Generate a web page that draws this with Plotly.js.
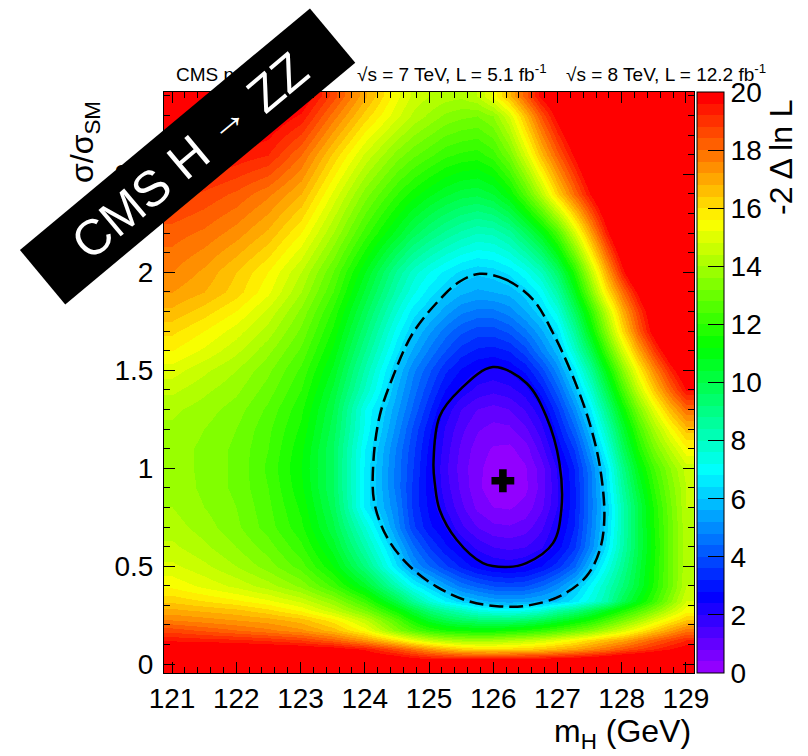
<!DOCTYPE html>
<html>
<head>
<meta charset="utf-8">
<script src="https://cdn.plot.ly/plotly-3.0.1.min.js"></script>
<style>html,body{margin:0;padding:0;background:#fff}#chart{width:808px;height:756px}</style>
</head>
<body>
<div id="chart"></div>
<script>
// ---------- data ----------
const massGeV = [121, 121.5, 122, 122.5, 123, 123.5, 124, 124.5, 124.75, 125, 125.25, 125.5, 125.75, 126, 126.25, 126.5, 126.75, 127, 127.25, 127.5, 127.75, 128, 128.25, 128.5, 128.75, 129];
const sigmaRatio = [-0.025, 0.025, 0.075, 0.125, 0.175, 0.225, 0.275, 0.325, 0.4, 0.5, 0.6, 0.7, 0.8, 0.9, 1.0, 1.1, 1.2, 1.3, 1.4, 1.5, 1.6, 1.7, 1.8, 1.9, 2.0, 2.2, 2.4, 2.6, 2.8, 2.9];
const minus2DeltaLnL = [
 [22,22,22,22,22,22,22,22,22,22,22,22,22,22,22,22,22,22,22,22,22,22,22,22,22,22],
 [22,22,21.8,21.6,21.4,21,20.6,20.2,19.9,19.7,19.6,19.6,19.6,19.7,19.7,19.8,19.8,20,20.1,20.3,20.5,20.8,21,21.3,21.6,22],
 [20.5,20.5,20.4,20.3,20.2,20.0,19.5,18.5,17.9,17.3,16.8,16.4,16.2,16.1,16.2,16.3,16.5,16.8,17.1,17.5,17.9,18.4,18.8,19.2,19.6,20.0],
 [19.5,19.4,19.3,19.1,18.8,18.2,17.3,16.0,15.2,14.6,14.2,14.0,13.9,14.0,14.2,14.4,14.7,15.1,15.6,16.1,16.6,17.0,17.6,18.2,18.7,19.2],
 [18.6,18.3,18.0,17.7,17.3,16.6,15.4,13.4,12.6,12.0,11.6,11.4,11.3,11.3,11.5,11.7,12.0,12.4,12.9,13.4,14.1,14.8,15.6,16.4,17.1,17.8],
 [17.6,17.4,17.2,17.0,16.6,15.8,14.5,12.6,11.5,10.6,10.0,9.6,9.4,9.3,9.3,9.5,9.9,10.4,11.0,11.6,12.4,13.2,14.0,14.9,15.7,16.4],
 [16.9,16.7,16.5,16.1,15.5,14.5,13.2,11.3,10.2,9.2,8.5,8.0,7.4,7.1,7.0,7.2,7.6,8.4,9.0,9.8,10.7,11.6,12.5,13.4,14.4,15.4],
 [16.3,16.0,15.7,15.3,14.7,13.7,12.2,10.0,8.7,7.6,6.8,6.2,5.8,5.5,5.4,5.5,5.7,6.0,6.6,7.4,8.3,9.8,11.0,12.2,13.5,14.8],
 [15.5,15.1,14.7,14.2,13.5,12.3,10.6,8.2,7.0,6.2,5.4,4.7,4.3,4.0,3.9,4.0,4.4,5.0,5.9,6.9,8.0,9.2,10.4,11.7,13.0,14.4],
 [14.9,14.5,14.0,13.4,12.6,11.2,9.1,6.4,5.2,4.4,3.7,3.1,2.6,2.35,2.25,2.4,2.8,3.4,4.3,5.8,7.2,8.7,10.2,11.6,13.0,14.3],
 [14.5,14.1,13.6,13.0,12.1,10.6,8.3,5.8,4.5,3.6,2.9,2.4,1.9,1.6,1.5,1.6,1.95,2.6,3.5,4.9,6.5,8.3,10.0,11.5,13.0,14.3],
 [14.2,13.8,13.3,12.6,11.7,10.1,7.6,5.0,3.7,2.9,2.4,1.7,1.2,0.9,0.85,1.0,1.5,2.3,3.2,4.7,6.2,8.2,10.0,11.6,13.0,14.3],
 [14.0,13.6,13.2,12.5,11.5,9.8,6.7,4.8,3.5,2.7,2.0,1.3,0.7,0.4,0.35,0.55,1.1,2.0,3.1,4.6,6.1,8.2,10.0,11.7,13.1,14.4],
 [13.9,13.5,13.1,12.4,11.3,9.6,6.7,4.6,3.5,2.6,1.8,1.1,0.5,0.15,0.05,0.3,0.95,1.95,3.1,4.6,6.3,8.5,10.4,12.0,13.3,14.4],
 [13.8,13.5,13.1,12.3,11.2,9.6,6.7,4.6,3.6,2.6,1.7,1.0,0.5,0.2,0.1,0.35,1.0,2.05,3.2,4.7,6.5,8.9,10.9,12.4,13.6,14.6],
 [13.8,13.5,13.1,12.4,11.3,9.6,6.8,4.7,3.7,2.7,1.8,1.1,0.6,0.35,0.3,0.6,1.4,2.5,3.6,5.3,7.2,9.6,11.6,13.2,14.4,15.5],
 [13.9,13.6,13.2,12.5,11.5,9.8,7.1,5.0,3.9,2.9,1.95,1.3,0.85,0.65,0.7,1.1,1.85,2.95,4.3,5.9,8.0,10.3,12.3,14.0,15.4,16.6],
 [14.1,13.8,13.4,12.7,11.7,10.0,7.2,5.3,4.3,3.3,2.28,1.6,1.2,1.05,1.2,1.65,2.3,3.5,5.0,6.7,8.9,11.2,13.3,15.1,16.7,18.0],
 [14.5,14.1,13.7,13.0,12.0,10.3,7.9,5.6,4.6,3.7,2.8,2.25,1.85,1.7,1.85,2.2,3.0,4.2,5.8,7.6,9.9,12.3,14.5,16.4,18.1,19.6],
 [15.0,14.5,14.0,13.3,12.3,10.7,8.3,5.95,4.9,4.1,3.3,2.75,2.4,2.28,2.45,2.9,3.8,5.0,6.6,8.6,11.0,13.4,15.6,17.5,19.2,20.6],
 [15.6,15.1,14.5,13.7,12.7,11.1,8.8,6.5,5.5,4.7,4.0,3.4,3.1,3.0,3.2,3.8,4.8,5.8,7.7,9.8,12.3,14.7,16.9,18.8,20.5,22],
 [16.1,15.6,15.0,14.2,13.1,11.5,9.3,7.0,6.05,5.3,4.6,4.1,3.8,3.8,4.1,4.7,5.5,6.5,8.6,11.0,13.5,16.0,18.2,20.1,22,23],
 [16.7,16.2,15.6,14.7,13.5,11.9,9.8,7.6,6.6,6.05,5.4,4.9,4.7,4.7,5.0,5.6,6.3,7.4,9.6,11.9,14.4,16.8,18.8,20.6,23,24],
 [17.2,16.8,16.2,15.3,14.0,12.4,10.3,8.2,7.3,6.6,6.1,5.7,5.5,5.6,5.75,6.2,7.0,8.4,10.7,13.2,15.8,17.9,19.8,21.6,24,25],
 [17.6,17.1,16.4,15.6,14.4,12.8,10.8,8.7,7.8,7.2,6.7,6.3,6.1,6.2,6.5,7.1,8.0,9.5,11.7,14.3,16.9,19.3,21.4,23.5,25,25],
 [18.2,17.9,17.4,16.7,15.6,14.0,12.2,10.6,9.8,9.2,8.7,8.3,8.0,8.1,8.6,9.6,10.8,12.4,14.7,17.0,19.3,21.3,23,25,25,25],
 [19.0,18.7,18.3,17.7,16.8,15.1,13.4,12.0,11.4,10.9,10.5,10.2,10.1,10.4,11.2,12.6,14.3,16.2,18.0,19.6,21.2,23,25,25,25,25],
 [20,19.8,19.5,19.2,18.0,16.3,14.7,13.4,12.9,12.5,12.1,11.9,11.8,12.2,13.2,14.8,16.6,18.2,19.7,21.2,23,25,25,25,25,25],
 [21,20.8,20.5,20.2,19.5,17.8,16.2,14.9,14.3,13.9,13.5,13.3,13.2,13.6,14.8,16.6,18.4,19.9,21.3,23,25,25,25,25,25,25],
 [21.5,21.3,21,20.8,20.2,18.6,16.9,15.3,14.7,14.4,14.2,14.1,14.4,15.3,16.6,18.2,19.8,20.7,22,23.5,25,25,25,25,25,25]
];
// 68% CL contour (solid) and 95% CL contour (dashed)
const cl68Mass = [125.995,126.515,126.826,127.03,127.06,126.93,126.515,126.2,125.84,125.43,125.165,125.09,125.07,125.165,125.48,125.995];
const cl68Mu   = [1.516,1.435,1.264,1.027,0.788,0.618,0.516,0.496,0.516,0.635,0.788,0.924,1.027,1.264,1.40,1.516];
const cl95Mass = [125.79,126.2,126.62,126.93,127.24,127.5,127.66,127.73,127.66,127.45,127.03,126.515,126.1,125.63,125.11,124.65,124.34,124.15,124.13,124.23,124.44,124.75,125.165,125.48,125.79];
const cl95Mu   = [1.992,1.962,1.86,1.69,1.468,1.23,1.009,0.754,0.584,0.448,0.346,0.298,0.295,0.32,0.397,0.516,0.652,0.822,1.009,1.264,1.468,1.69,1.86,1.953,1.992];
const bestFitMass = [126.15];
const bestFitMu = [0.936];
const headerTexts = ['CMS preliminary', '\u221As = 7 TeV, L = 5.1 fb<sup>-1</sup>', '\u221As = 8 TeV, L = 12.2 fb<sup>-1</sup>'];
const colorTicks = [0,2,4,6,8,10,12,14,16,18,20];

// ---------- styling / geometry ----------
const FONT = 'Liberation Sans, Arial, Helvetica, sans-serif';
const W = 808, H = 756, ML = 164, MR = 114, MT = 92, MB = 83;
const PW = W - ML - MR, PH = H - MT - MB;
const XR = [120.875, 129.125], YR = [-0.045, 2.92];
const pxX = px => (px - ML) / PW;
const pxY = py => (H - MB - py) / PH;
const massAtPx = px => XR[0] + (px - ML) / PW * (XR[1] - XR[0]);

function hueRgb(h) {
  const f = n => { const k = (n + h / 30) % 12; return 0.5 - 0.5 * Math.max(-1, Math.min(k - 3, 9 - k, 1)); };
  return 'rgb(' + Math.round(255 * f(0)) + ',' + Math.round(255 * f(8)) + ',' + Math.round(255 * f(4)) + ')';
}
const NB = 50;
const colorscale = [];
for (let i = 0; i < NB; i++) {
  const c = hueRgb(280 - 5.6 * (i + 1));
  colorscale.push([i / NB, c]);
  colorscale.push([(i + 1) / NB, c]);
}

// banner geometry (pixels)
const bc = [187.6, 156.4], bang = 39.8 * Math.PI / 180, bhl = 188.75, bhw = 35.4;
const u = [Math.cos(bang), -Math.sin(bang)], v = [Math.sin(bang), Math.cos(bang)];
const corners = [[-1,-1],[1,-1],[1,1],[-1,1]].map(([a,b]) => [bc[0] + a*bhl*u[0] + b*bhw*v[0], bc[1] + a*bhl*u[1] + b*bhw*v[1]]);
const bannerPath = corners.map((p, i) => (i ? 'L' : 'M') + pxX(p[0]).toFixed(5) + ',' + pxY(p[1]).toFixed(5)).join(' ') + ' Z';

const traces = [
  {
    type: 'heatmap', x: massGeV, y: sigmaRatio, z: minus2DeltaLnL,
    zmin: 0, zmax: 20, zauto: false, zsmooth: 'best', colorscale: colorscale, hoverinfo: 'skip',
    colorbar: {
      x: pxX(697), xanchor: 'left', y: 0.5, yanchor: 'middle', len: 1, lenmode: 'fraction',
      thickness: 27, thicknessmode: 'pixels', xpad: 0, ypad: 0,
      outlinewidth: 1, outlinecolor: '#000', borderwidth: 0,
      tickmode: 'array', tickvals: colorTicks, ticktext: colorTicks.map(String),
      ticks: 'inside', ticklen: 16, tickwidth: 1, tickcolor: '#000',
      tickfont: { family: FONT, size: 28, color: '#000' }
    }
  },
  { type: 'scatter', mode: 'lines', x: cl95Mass, y: cl95Mu, hoverinfo: 'skip', showlegend: false,
    line: { color: '#000', width: 2.5, dash: '14px,6px', shape: 'spline', smoothing: 1 } },
  { type: 'scatter', mode: 'lines', x: cl68Mass, y: cl68Mu, hoverinfo: 'skip', showlegend: false,
    line: { color: '#000', width: 2.5, shape: 'spline', smoothing: 1 } },
  { type: 'scatter', mode: 'markers', x: bestFitMass, y: bestFitMu, hoverinfo: 'skip', showlegend: false,
    marker: { symbol: 'cross', size: 19, color: '#000', line: { width: 0 } } },
  { type: 'scatter', mode: 'markers', x: [125], y: [1], xaxis: 'x2', hoverinfo: 'skip', showlegend: false,
    marker: { opacity: 0 } }
];

const axisCommon = {
  showgrid: false, zeroline: false, showline: true, linecolor: '#000', linewidth: 1,
  mirror: 'ticks', ticks: 'inside', tickcolor: '#000', tickwidth: 1,
  tickfont: { family: FONT, size: 28, color: '#000' }
};

const layout = {
  width: W, height: H, margin: { l: ML, r: MR, t: MT, b: MB, pad: 0 },
  paper_bgcolor: '#fff', plot_bgcolor: '#fff', showlegend: false,
  font: { family: FONT, color: '#000' },
  xaxis: Object.assign({}, axisCommon, {
    range: XR, tickmode: 'linear', tick0: 121, dtick: 1, ticklen: 11,
    minor: { dtick: 0.2, ticks: 'inside', ticklen: 6, tickcolor: '#000', tickwidth: 1, showgrid: false }
  }),
  xaxis2: {
    overlaying: 'x', side: 'top', anchor: 'y', range: XR, showgrid: false, zeroline: false, showline: false,
    ticks: '', tickmode: 'array', tickvals: [massAtPx(176), massAtPx(357), massAtPx(566)], ticktext: headerTexts,
    ticklabelposition: 'outside right', tickfont: { family: FONT, size: 19, color: '#000' }, ticklabelstandoff: 6
  },
  yaxis: Object.assign({}, axisCommon, {
    range: YR, tickmode: 'linear', tick0: 0, dtick: 0.5, ticklen: 11, ticklabelstandoff: 4,
    minor: { dtick: 0.1, ticks: 'inside', ticklen: 6, tickcolor: '#000', tickwidth: 1, showgrid: false }
  }),
  shapes: [
    { type: 'path', xref: 'paper', yref: 'paper', path: bannerPath, fillcolor: '#000', line: { width: 0 }, layer: 'above' }
  ],
  annotations: [
    { xref: 'paper', yref: 'paper', x: pxX(190), y: pxY(156), text: 'CMS H <span style="font-size:40px;baseline-shift:8px">\u2192</span> ZZ',
      textangle: -40, showarrow: false, xanchor: 'center', yanchor: 'middle',
      font: { family: FONT, size: 50, color: '#fff' } },
    { xref: 'paper', yref: 'paper', x: pxX(84), y: pxY(142), text: '\u03C3/\u03C3<sub>SM</sub>',
      textangle: -90, showarrow: false, xanchor: 'center', yanchor: 'middle',
      font: { family: FONT, size: 32, color: '#000' } },
    { xref: 'paper', yref: 'paper', x: pxX(693), y: pxY(733), text: 'm<sub>H</sub> (GeV)',
      showarrow: false, xanchor: 'right', yanchor: 'middle',
      font: { family: FONT, size: 32, color: '#000' } },
    { xref: 'paper', yref: 'paper', x: pxX(781), y: pxY(157), text: '-2 \u0394 ln L',
      textangle: -90, showarrow: false, xanchor: 'center', yanchor: 'middle',
      font: { family: FONT, size: 32, color: '#000' } }
  ]
};

Plotly.newPlot('chart', traces, layout, { displayModeBar: false, staticPlot: true });
</script>
</body>
</html>
